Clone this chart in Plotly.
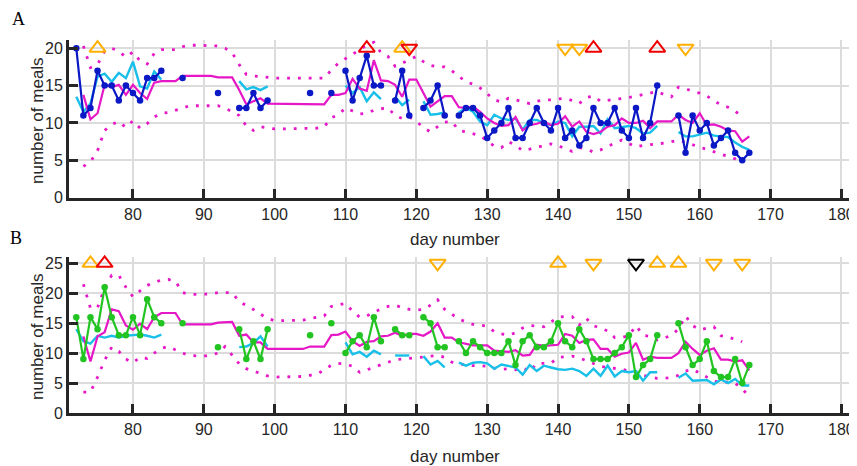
import plotly.graph_objects as go

N = None
DAYS = list(range(72, 168))

# ---------------- Panel A ----------------
A_obs = [20, 11, 12, 17, 15, 15, 13, 15, 14, 13,
         16, 16, 17, N, N, 16, N, N, N, N,
         14, N, N, 12, 12, 14, 12, 13, N, N,
         N, N, N, 14, N, N, 14, N, 17, 13,
         16, 19, 15, 15, N, 13, 17, 11, N, 12,
         13, 15, 11, N, 11, 12, 12, 11, 8, 9,
         10, 12, 8, 8, 10, 12, 10, 9, 12, 8,
         9, 7, 8, 12, 10, 10, 12, 9, 8, 12,
         8, 10, 15, N, N, 11, 6, 11, 9, 10,
         7, 8, 9, 6, 5, 6]
A_pred = [13.5, 11.5, 12.6, 16.2, 16.6, 15.5, 16.7, 16.0, 18.2, 14.9,
          14.6, 16.9, 15.8, N, N, N, N, N, N, N,
          N, N, N, 15.6, 14.5, 14.8, 14.4, 14.9, N, N,
          N, N, N, N, N, N, N, N, 15.0, 14.0,
          14.8, 12.9, 14.1, 13.2, N, 13.5, 12.4, 13.1, N, 12.9,
          11.1, 11.2, 11.4, N, 11.4, 12.0, 11.5, 10.2, 9.7, 11.1,
          10.6, 10.4, 10.6, 9.1, 10.4, 10.4, 10.0, 9.7, 10.2, 10.0,
          8.2, 9.5, 9.5, 9.6, 8.6, 10.5, 9.3, 9.5, 9.6, 9.3,
          8.6, 8.7, 9.6, N, N, 8.8, 8.2, 8.2, 8.4, 8.7,
          8.3, 8.2, 8.1, 7.4, 6.8, 6.4]
A_med = [N, 13.75, 10.5, 11.3, 15.1, 14.8, 15.1, 13.75, 15.1, 14.0,
         13.2, 15.4, 15.6, 15.6, 15.6, 16.3, 16.3, 16.3, 16.3, 16.3,
         16.1, 16.1, 16.1, 14.4, 12.5, 12.9, 13.3, 12.6, 12.6, 12.6,
         12.6, 12.6, 12.6, 12.6, 12.6, 12.5, 13.75, 13.75, 14.0, 15.9,
         14.6, 14.3, 18.4, 15.7, 15.6, 15.1, 13.5, 15.8, 15.8, 13.9,
         12.2, 12.9, 13.6, 13.6, 12.1, 12.0, 12.2, 11.5, 10.6, 10.0,
         9.6, 9.7, 10.8, 9.0, 9.7, 9.9, 10.2, 9.7, 9.9, 10.9,
         9.5, 10.2, 8.8, 8.5, 8.8, 9.5, 9.7, 10.6, 10.0, 10.0,
         10.3, 9.3, 10.2, 10.2, 10.2, 11.1, 10.4, 10.0, 11.3, 9.7,
         9.8, 9.5, 9.0, 8.9, 7.5, 8.2]
A_upper = [N, 20.3, 17.4, 17.8, 19.6, 20.0, 19.6, 18.8, 19.5, 18.3,
           17.9, 19.3, 19.8, 19.8, 19.8, 20.2, 20.4, 20.4, 20.4, 20.4,
           20.3, 20.0, 19.4, 17.8, 16.5, 16.3, 16.2, 16.0, 16.0, 16.0,
           16.0, 16.0, 16.0, 16.0, 16.0, 16.0, 17.1, 18.0, 18.6, 19.2,
           19.8, 20.4, 20.8, 19.4, 18.9, 17.6, 18.0, 18.5, 18.9, 18.2,
           17.7, 17.5, 17.5, 17.0, 16.2, 15.5, 15.2, 14.7, 13.9, 13.1,
           12.8, 13.3, 13.1, 12.8, 12.6, 12.9, 13.1, 13.1, 13.2, 13.3,
           13.0, 12.6, 13.4, 13.6, 12.9, 13.0, 13.2, 13.3, 13.4, 13.6,
           13.8, 14.0, 14.2, 13.8, 13.5, 14.8, 14.6, 14.2, 14.0, 13.6,
           13.0, 12.4, 12.1, 11.6, 10.8, N]
A_lower = [N, 4.2, 4.8, 6.3, 9.0, 9.8, 10.2, 9.4, 10.3, 9.3,
           9.9, 10.8, 11.3, 11.4, 11.7, 12.0, 12.3, 12.3, 12.3, 12.3,
           12.3, 12.0, 11.5, 11.0, 9.6, 9.0, 9.5, 9.3, 9.2, 9.2,
           9.2, 9.2, 9.2, 9.2, 9.3, 9.5, 10.7, 11.1, 12.0, 11.6,
           11.2, 11.3, 11.7, 11.9, 12.0, 11.0, 10.6, 10.8, 10.2, 9.4,
           8.8, 9.5, 10.1, 10.2, 9.0, 8.8, 8.6, 8.3, 7.6, 6.9,
           6.7, 7.5, 7.0, 6.3, 6.5, 6.8, 6.9, 7.2, 7.0, 6.5,
           6.2, 6.7, 6.5, 6.1, 6.4, 6.9, 7.3, 7.7, 7.2, 6.8,
           7.0, 7.1, 7.2, 7.3, 7.5, 7.7, 7.4, 7.1, 6.8, 6.4,
           6.1, 5.9, 5.6, 5.2, 4.5, N]
A_up_orange = [75, 118]
A_up_red = [113, 145, 154]
A_dn_red = [119]
A_dn_orange = [141, 143, 158]
A_mark_level = 20

# ---------------- Panel B ----------------
B_obs = [16, 9, 16, 14, 21, 16, 13, 13, 16, 13,
         19, 16, 15, N, N, 15, N, N, N, N,
         11, N, N, 14, 9, 12, 9, 14, N, N,
         N, N, N, 13, N, N, 15, N, 10, 12,
         13, 11, 16, 12, N, 14, 13, 13, N, 16,
         15, 11, 11, N, 12, 10, 12, 11, 10, 10,
         10, 12, 8, 12, 13, 11, 11, 12, 15, 12,
         11, 14, 12, 9, 9, 9, 10, 11, 13, 6,
         8, 9, 13, N, N, 15, 11, 8, 9, 12,
         7, 6, 6, 9, 5, 8]
B_pred = [14.0, 12.0, 11.6, 12.9, 12.6, 12.9, 12.6, 12.9, 13.0, 13.1,
          12.9, 12.6, 13.1, N, N, N, N, N, N, N,
          N, N, N, 11.0, 11.1, 11.7, 12.8, 11.1, N, N,
          N, N, N, N, N, N, N, N, 11.8, 9.8,
          10.2, 9.4, 10.4, 9.8, N, 9.6, 9.6, 9.6, N, 9.5,
          8.1, 8.7, 7.6, N, 8.4, 7.9, 8.4, 8.5, 8.3, 7.4,
          8.1, 7.9, 7.6, 6.4, 8.0, 7.0, 7.9, 7.6, 7.3, 7.2,
          7.4, 7.0, 6.2, 7.4, 6.2, 7.9, 6.1, 7.0, 6.8, 7.0,
          5.4, 6.8, 6.8, N, N, 5.9, 6.6, 5.4, 5.5, 5.5,
          4.8, 5.6, 5.0, 5.7, 4.6, 4.6]
B_med = [N, 12.8, 8.6, 12.8, 13.5, 17.3, 17.0, 14.6, 13.9, 14.9,
         14.0, 16.0, 16.7, 16.7, 16.7, 14.8, 14.8, 14.8, 14.8, 14.8,
         15.1, 15.2, 15.2, 12.9, 13.1, 11.8, 11.8, 10.7, 10.7, 10.7,
         10.7, 10.7, 10.7, 11.1, 11.1, 11.1, 13.0, 13.1, 13.6, 12.0,
         11.2, 11.9, 12.0, 12.8, 12.9, 13.4, 12.9, 13.2, 13.2, 12.9,
         13.6, 15.0, 12.6, 12.6, 11.8, 11.5, 11.3, 11.3, 11.3, 10.4,
         10.3, 10.2, 10.5, 9.6, 9.7, 11.4, 11.2, 11.3, 11.4, 13.2,
         12.9, 11.7, 12.2, 12.3, 10.7, 10.7, 9.4, 9.9, 10.1, 11.7,
         8.9, 9.4, 9.2, 9.2, 9.2, 10.0, 11.9, 10.7, 9.7, 10.4,
         10.8, 8.9, 8.9, 8.6, 8.8, 7.1]
B_upper = [N, 21.5, 17.5, 17.6, 20.9, 23.0, 23.0, 21.0, 19.4, 20.4,
           21.3, 21.8, 22.2, 22.3, 22.0, 20.1, 19.8, 19.8, 19.8, 19.9,
           20.1, 20.1, 20.1, 18.6, 18.0, 17.3, 16.5, 15.8, 15.4, 15.4,
           15.4, 15.4, 15.5, 15.8, 16.0, 16.2, 17.8, 18.0, 18.3, 17.0,
           16.0, 16.2, 16.8, 17.4, 17.8, 18.0, 17.6, 17.3, 17.2, 17.3,
           18.0, 18.9, 17.3, 16.5, 15.7, 15.2, 14.8, 14.7, 14.5, 13.6,
           13.2, 13.0, 13.4, 14.2, 14.6, 14.5, 14.4, 15.2, 16.0, 16.1,
           16.1, 14.7, 15.8, 14.6, 14.2, 13.7, 12.6, 12.6, 12.9, 14.6,
           13.0, 12.8, 12.2, 12.5, 13.0, 14.0, 16.2, 14.6, 13.9, 14.2,
           14.4, 12.9, 12.7, 12.3, 11.9, N]
B_lower = [N, 3.5, 3.5, 6.0, 8.8, 11.0, 10.3, 9.0, 8.4, 9.3,
           9.1, 10.0, 10.8, 11.1, 10.5, 10.0, 9.6, 9.5, 9.5, 9.7,
           10.0, 11.1, 9.6, 8.2, 7.4, 7.0, 6.6, 6.2, 6.0, 6.0,
           6.0, 6.0, 6.1, 6.3, 6.5, 7.2, 8.0, 8.3, 8.2, 7.8,
           6.8, 7.2, 7.6, 8.1, 8.5, 8.9, 9.0, 9.1, 9.3, 9.4,
           9.5, 9.6, 9.3, 8.5, 8.2, 8.0, 7.9, 7.9, 7.8, 7.5,
           7.3, 7.4, 7.2, 7.6, 6.9, 8.3, 8.3, 8.3, 9.3, 9.4,
           9.5, 9.2, 8.7, 8.2, 7.8, 7.6, 7.5, 7.3, 7.0, 6.8,
           6.3, 6.0, 5.8, 5.8, 5.9, 6.3, 7.0, 7.3, 6.6, 6.0,
           5.4, 5.0, 5.2, 5.0, 4.0, 2.8]
B_up_orange = [74, 140, 154, 157]
B_up_red = [76]
B_dn_orange = [123, 145, 162, 166]
B_dn_black = [151]
B_mark_level = 25

X_TICKS = [80, 90, 100, 110, 120, 130, 140, 150, 160, 170, 180]
A_Y_TICKS = [0, 5, 10, 15, 20]
B_Y_TICKS = [0, 5, 10, 15, 20, 25]

BLUE = "#0b18c6"
CYAN = "#18bfe8"
MAGENTA = "#e617c6"
GREEN = "#22c422"
ORANGE = "#ffb000"
RED = "#f00000"
BLACK = "#000000"

fig = go.Figure()


def add_panel(xa, ya, obs, obs_color, pred, med, upper, lower, marks, level):
    for band in (upper, lower):
        fig.add_trace(go.Scatter(x=DAYS, y=band, mode="lines", xaxis=xa, yaxis=ya,
                                 line=dict(color=MAGENTA, width=2.8, dash="2.8px,8px"),
                                 connectgaps=False, showlegend=False, hoverinfo="skip"))
    fig.add_trace(go.Scatter(x=DAYS, y=pred, mode="lines", xaxis=xa, yaxis=ya,
                             line=dict(color=CYAN, width=2.4), connectgaps=False,
                             showlegend=False))
    fig.add_trace(go.Scatter(x=DAYS, y=med, mode="lines", xaxis=xa, yaxis=ya,
                             line=dict(color=MAGENTA, width=2.2), showlegend=False))
    fig.add_trace(go.Scatter(x=DAYS, y=obs, mode="lines+markers", xaxis=xa, yaxis=ya,
                             line=dict(color=obs_color, width=2.2),
                             marker=dict(color=obs_color, size=6.5),
                             connectgaps=False, showlegend=False))
    for days, sym, col in marks:
        fig.add_trace(go.Scatter(x=days, y=[level] * len(days), mode="markers",
                                 xaxis=xa, yaxis=ya, cliponaxis=False,
                                 marker=dict(symbol=sym, size=14, color="rgba(0,0,0,0)",
                                             line=dict(color=col, width=2)),
                                 showlegend=False))


add_panel("x", "y", A_obs, BLUE, A_pred, A_med, A_upper, A_lower,
          [(A_up_orange, "triangle-up", ORANGE), (A_up_red, "triangle-up", RED),
           (A_dn_red, "triangle-down", RED), (A_dn_orange, "triangle-down", ORANGE)],
          A_mark_level)
add_panel("x2", "y2", B_obs, GREEN, B_pred, B_med, B_upper, B_lower,
          [(B_up_orange, "triangle-up", ORANGE), (B_up_red, "triangle-up", RED),
           (B_dn_orange, "triangle-down", ORANGE), (B_dn_black, "triangle-down", BLACK)],
          B_mark_level)

FONT = "Liberation Sans, Arial, sans-serif"
AX = dict(showline=True, linecolor="#262626", linewidth=3, ticks="inside",
          ticklen=9, tickwidth=3, tickcolor="#262626", showgrid=True,
          gridcolor="#dcdcdc", gridwidth=2, zeroline=False, automargin=False,
          tickfont=dict(family=FONT, size=16, color="#262626"))

# The page places the figure 8 px in from the top-left corner (body margin),
# so the figure is 8 px smaller and every page position is shifted by 8.
OFF = 8
W, H = 857 - OFF, 466 - OFF
ML, MR, MT, MB = 69 - OFF, 0, 40 - OFF, H - (413 - OFF)
PW, PH = W - ML - MR, H - MT - MB


def px(x):
    return (x - OFF - ML) / PW


def py(y):
    return (H - MB - (y - OFF)) / PH


fig.update_layout(
    width=W, height=H, margin=dict(l=ML, r=MR, t=MT, b=MB, autoexpand=False),
    paper_bgcolor="white", plot_bgcolor="white", showlegend=False,
    xaxis=dict(domain=[0, 1], range=[70.97, 182.2], anchor="y", tickvals=X_TICKS, **AX),
    yaxis=dict(domain=[py(197.7), 1], range=[0, 21.1], anchor="x", tickvals=A_Y_TICKS, **AX),
    xaxis2=dict(domain=[0, 1], range=[70.97, 182.2], anchor="y2", tickvals=X_TICKS, **AX),
    yaxis2=dict(domain=[0, py(257)], range=[0, 26.05], anchor="x2", tickvals=B_Y_TICKS, **AX),
)

ann = []
TFONT = dict(family=FONT, size=17, color="#262626")
for yc in (121, 337):
    ann.append(dict(text="number of meals", x=px(37), y=py(yc), xref="paper", yref="paper",
                    textangle=-90, showarrow=False, font=TFONT,
                    xanchor="center", yanchor="middle"))
for yc in (239, 456):
    ann.append(dict(text="day number", x=px(455), y=py(yc), xref="paper", yref="paper",
                    showarrow=False, font=TFONT, xanchor="center", yanchor="middle"))
for lab, xc, yc in (("A", 18.5, 19), ("B", 16.5, 237.5)):
    ann.append(dict(text=lab, x=px(xc), y=py(yc), xref="paper", yref="paper",
                    showarrow=False, xanchor="center", yanchor="middle",
                    font=dict(family="Liberation Serif, Times New Roman, serif",
                              size=18, color="#000000")))
fig.update_layout(annotations=ann)

fig.write_html("out.html")
